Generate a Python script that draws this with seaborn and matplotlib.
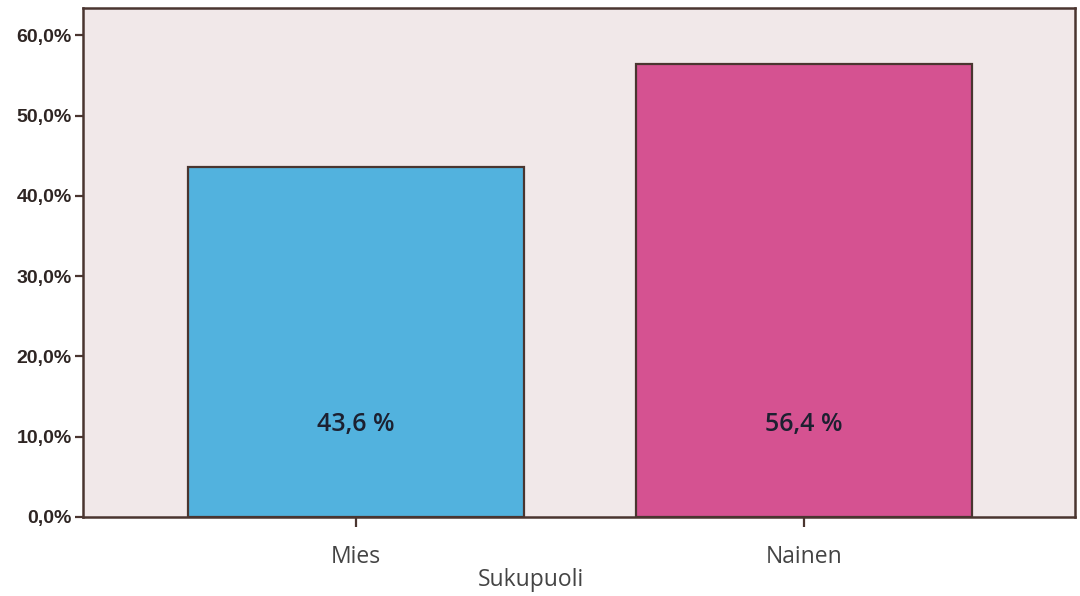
import matplotlib
matplotlib.use("Agg")
import matplotlib.pyplot as plt
import seaborn as sns
import pandas as pd

# Gender distribution (share of respondents, %)
categories = ["Mies", "Nainen"]
shares = [43.6, 56.4]
value_labels = ["43,6 %", "56,4 %"]
yticks = [0, 10, 20, 30, 40, 50, 60]

bar_colors = ["#52B2DE", "#D55291"]
edge = "#4a3530"

sns.set_theme(style="white")
plt.rcParams["font.family"] = ["Open Sans", "DejaVu Sans"]

df = pd.DataFrame({"Sukupuoli": categories, "Osuus": shares})

fig = plt.figure(figsize=(10.8, 5.96), dpi=100)
ax = fig.add_axes([0.0769, 0.1326, 0.9185, 0.854])
ax.set_facecolor("#F1E8E9")

sns.barplot(data=df, x="Sukupuoli", y="Osuus", hue="Sukupuoli",
            palette=bar_colors, width=0.75, edgecolor=edge, linewidth=1.6,
            saturation=1, legend=False, ax=ax)

ax.set_ylim(0, 63.4)
ax.set_xlim(-0.61, 1.605)
ax.set_yticks(yticks)
ax.set_yticklabels([f"{v:.1f}%".replace(".", ",") for v in yticks],
                   family=["Liberation Sans", "DejaVu Sans"],
                   fontweight="bold", fontsize=14, color="#2e2523")
ax.tick_params(axis="y", direction="out", length=6, width=1.6,
               color=edge, pad=2, left=True)
ax.tick_params(axis="x", direction="out", length=7.5, width=1.6,
               color=edge, pad=13, bottom=True, labelsize=16.5,
               labelcolor="#444444")

for s in ax.spines.values():
    s.set_visible(True)
    s.set_color(edge)
    s.set_linewidth(1.8)

ax.set_ylabel("")
ax.set_xlabel("Sukupuoli", fontsize=16.5, color="#444444")
ax.xaxis.set_label_coords(0.452, -0.1)

for i, (v, lab) in enumerate(zip(shares, value_labels)):
    ax.text(i, 11.5, lab, ha="center", va="center", fontsize=18,
            fontweight="semibold", color="#1c2030")

fig.savefig("out.png", dpi=100, facecolor="white")
